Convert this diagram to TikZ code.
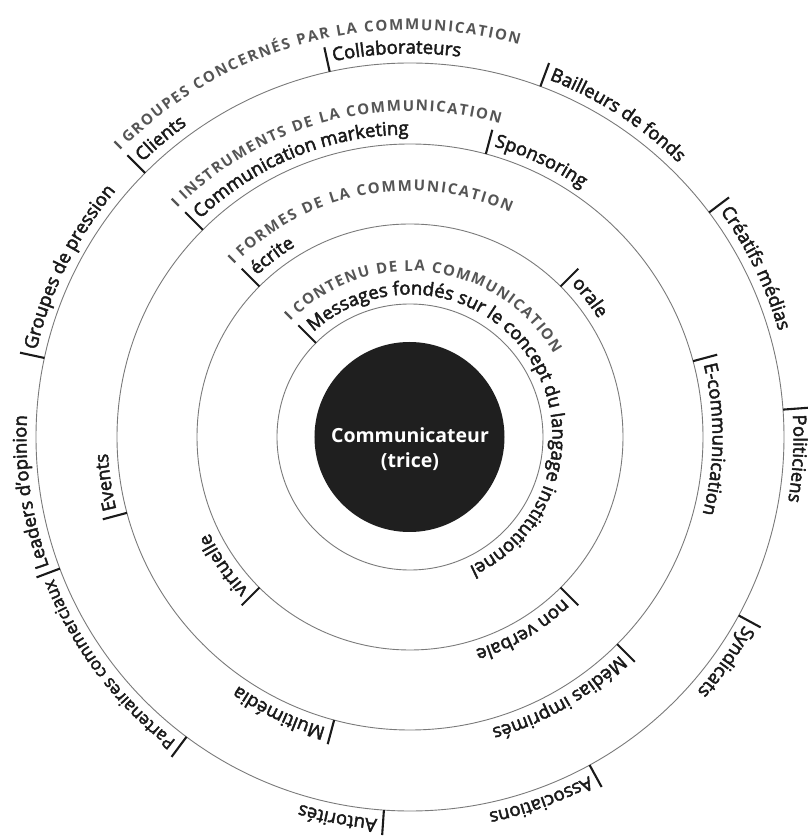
\documentclass[tikz,border=0pt]{standalone}
\usepackage{fontspec}
\setmainfont{Open Sans}
\newfontfamily\lblfam{Open Sans}[FakeBold=2.5]
\newfontfamily\hdfam{Open Sans}
\usetikzlibrary{decorations.text}
\definecolor{ringgray}{HTML}{7A7A7A}
\definecolor{headgray}{HTML}{555555}
\definecolor{inkc}{HTML}{1A1A1A}
\newcommand\lblfont{\lblfam\fontsize{18.5}{20}\selectfont\color{inkc}}
\newcommand\smallfont{\lblfam\fontsize{17.2}{19}\selectfont\color{inkc}}
\newcommand\hdrfont{\hdfam\bfseries\fontsize{15}{17}\selectfont\color{headgray}}
\tikzset{
  ringline/.style={draw=ringgray,line width=0.9pt},
  tickline/.style={draw=inkc,line width=2.1pt},
  hmark/.style={draw=headgray,line width=2.2pt},
  disc/.style={fill=black!88},
  centertext/.style={text=white,font=\bfseries\fontsize{19.5}{24}\selectfont,anchor=base,inner sep=0pt}
}
% ring label: #1 circle radius, #2 angle of tick, #3 text, #4 font
\newcommand\ringlabelf[4]{%
  \pgfmathsetmacro\rlRb{#1+9.5}%
  \pgfmathsetmacro\rlRt{#1+25}%
  \pgfmathsetmacro\rlSa{#2-6/\rlRb*57.2958}%
  \pgfmathsetmacro\rlEa{\rlSa-300}%
  \draw[tickline] (#2:#1) -- (#2:\rlRt);
  \path[decorate,decoration={text along path,text={|#4|#3},text align=left}]
    (\rlSa:\rlRb) arc[start angle=\rlSa,end angle=\rlEa,radius=\rlRb];
}
\newcommand\ringlabel[3]{\ringlabelf{#1}{#2}{#3}{\lblfont}}
% ring header: #1 circle radius, #2 end angle, #3 text
\newcommand\ringhead[3]{%
  \pgfmathsetmacro\rhR{#1+33}%
  \pgfmathsetmacro\rhA{#1+34}%
  \pgfmathsetmacro\rhB{#1+44}%
  \pgfmathsetmacro\rhSa{135-8/\rhR*57.2958}%
  \draw[hmark] (135:\rhA) -- (135:\rhB);
  \path[decorate,decoration={text along path,text={|\hdrfont|#3},text align={fit to path}}]
    (\rhSa:\rhR) arc[start angle=\rhSa,end angle=#2,radius=\rhR];
}
\begin{document}
\begin{tikzpicture}[x=1pt,y=1pt]
\useasboundingbox[fill=white] (-410,-400) rectangle (398,437);
% rings
\draw[ringline] (0,0) circle[radius=133];
\draw[ringline] (0,0) circle[radius=213];
\draw[ringline] (0,0) circle[radius=293];
\draw[ringline] (0,0) circle[radius=374];
% central disc
\fill[disc] (-0.5,0) circle[radius=95];
\node[centertext] (comm) at (0,-6) {Communicateur};
\node[centertext] (trice) at (0,-31) {(trice)};
% outer ring: groupes concernes
\ringhead{374}{74.5}{GROUPES CONCERNÉS PAR LA COMMUNICATION}
\ringlabel{374}{135.1}{Clients}
\ringlabel{374}{102.4}{Collaborateurs}
\ringlabel{374}{69.6}{Bailleurs de fonds}
\ringlabel{374}{36.9}{Créatifs médias}
\ringlabel{374}{4.2}{Politiciens}
\ringlabel{374}{-28.5}{Syndicats}
\ringlabel{374}{-61.3}{Associations}
\ringlabel{374}{-94.0}{Autorités}
\ringlabelf{374}{-126.7}{Partenaires commerciaux}{\smallfont}
\ringlabel{374}{-159.4}{Leaders d’opinion}
\ringlabel{374}{167.8}{Groupes de pression}
% instruments
\ringhead{293}{74}{INSTRUMENTS DE LA COMMUNICATION}
\ringlabel{293}{135}{Communication marketing}
\ringlabel{293}{75}{Sponsoring}
\ringlabel{293}{15}{E-communication}
\ringlabel{293}{-45}{Médias imprimés}
\ringlabel{293}{-105}{Multimédia}
\ringlabel{293}{-165}{Events}
% formes
\ringhead{213}{66}{FORMES DE LA COMMUNICATION}
\ringlabel{213}{135}{écrite}
\ringlabel{213}{45}{orale}
\ringlabel{213}{-45}{non verbale}
\ringlabel{213}{-135}{virtuelle}
% contenu
\ringhead{133}{30}{CONTENU DE LA COMMUNICATION}
\ringlabel{133}{135}{Messages fondés sur le concept du langage institutionnel}
\end{tikzpicture}
\end{document}
